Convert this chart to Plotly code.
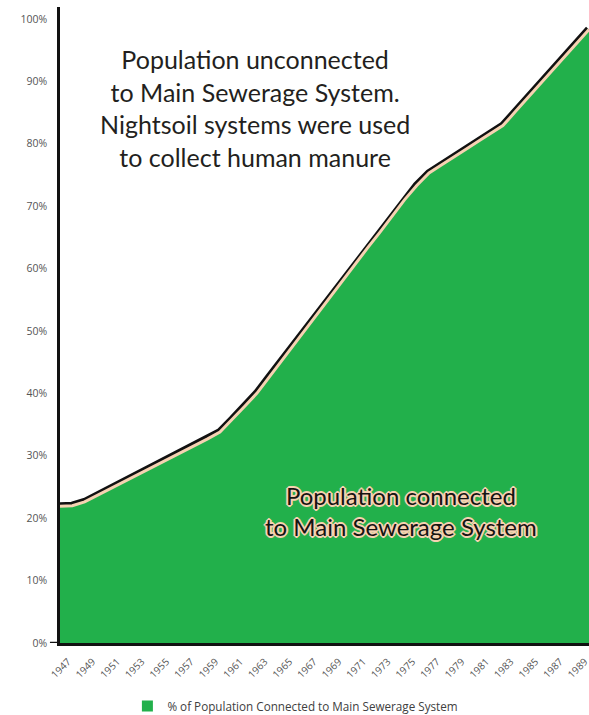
import plotly.graph_objects as go

# Share of the population connected to the main sewerage system, by year
years = list(range(1947, 1991))
connected_pct = [
    21.9, 22.0, 22.6, 23.6, 24.6, 25.6, 26.6, 27.6, 28.6, 29.6,
    30.6, 31.7, 32.7, 33.8, 35.8, 37.9, 40.0, 42.6, 45.2, 47.8,
    50.4, 53.0, 55.6, 58.2, 60.8, 63.3, 65.8, 68.4, 71.0, 73.3,
    75.3, 76.6, 77.8, 79.1, 80.4, 81.6, 82.9, 85.1, 87.3, 89.5,
    91.7, 93.9, 96.1, 98.3,
]

tick_years = list(range(1947, 1990, 2))
y_ticks = list(range(0, 101, 10))
y_tick_labels = [f"{v}%" for v in y_ticks]

series_name = "% of Population Connected to Main Sewerage System"
unconnected_note = ("Population unconnected<br>to Main Sewerage System.<br>"
                    "Nightsoil systems were used<br>to collect human manure")
connected_note = "Population connected<br>to Main Sewerage System"

GREEN = "#22b04b"
BEIGE = "#f6d2b2"

fig = go.Figure()

# dark outline running along the top of the connected area
fig.add_trace(go.Scatter(
    x=years, y=connected_pct, mode="lines",
    line=dict(color="#111111", width=8),
    showlegend=False, hoverinfo="skip",
))
# the connected share as a filled area
fig.add_trace(go.Scatter(
    x=years, y=connected_pct, mode="lines",
    fill="tozeroy", fillcolor=GREEN,
    line=dict(color=GREEN, width=0),
    name=series_name, showlegend=False,
))
# light edge between the fill and the outline
fig.add_trace(go.Scatter(
    x=years, y=connected_pct, mode="lines",
    line=dict(color=BEIGE, width=3),
    showlegend=False, hoverinfo="skip",
))
# legend key for the area: a plain green square
fig.add_trace(go.Scatter(
    x=[None], y=[None], mode="markers",
    marker=dict(symbol="square", size=11, color=GREEN),
    name=series_name, showlegend=True,
))

halo = ", ".join([
    f"1px 1px 0 {BEIGE}", f"-1px -1px 0 {BEIGE}",
    f"1px -1px 0 {BEIGE}", f"-1px 1px 0 {BEIGE}",
    f"2px 0 0 {BEIGE}", f"-2px 0 0 {BEIGE}",
    f"0 2px 0 {BEIGE}", f"0 -2px 0 {BEIGE}",
    f"0 0 3px {BEIGE}",
])

fig.add_annotation(
    x=0.369, y=0.841, xref="paper", yref="paper",
    xanchor="center", yanchor="middle",
    text=unconnected_note, showarrow=False, align="center",
    font=dict(family="Lato", size=25, color="#231f20"),
)
fig.add_annotation(
    x=0.645, y=0.2075, xref="paper", yref="paper",
    xanchor="center", yanchor="middle",
    text=connected_note, showarrow=False, align="center",
    font=dict(family="Lato", size=24, color="#161412", shadow=halo),
)

# short stub of the baseline to the left of the value axis
fig.add_shape(type="line", xref="paper", yref="y",
              x0=-0.019, x1=0, y0=0, y1=0,
              line=dict(color="#111111", width=2.5))

fig.update_xaxes(
    range=[1947, 1990],
    tickmode="array", tickvals=tick_years,
    ticktext=[str(y) for y in tick_years],
    tickangle=-45, ticklabelshift=8, ticklabelstandoff=6,
    ticklabeloverflow="allow",
    tickfont=dict(family="Open Sans", size=10, color="#555555"),
    showgrid=False, zeroline=False,
    showline=True, linecolor="#111111", linewidth=3,
    ticks="", automargin=False,
)
fig.update_yaxes(
    range=[0, 101.9],
    tickmode="array", tickvals=y_ticks, ticktext=y_tick_labels,
    tickfont=dict(family="Open Sans", size=10.5, color="#555555"),
    ticklabelstandoff=8,
    showgrid=False, zeroline=False,
    showline=True, linecolor="#111111", linewidth=2.5,
    ticks="", automargin=False,
)

fig.update_layout(
    width=589, height=715,
    margin=dict(l=60, r=0, t=7, b=72, autoexpand=False),
    paper_bgcolor="white", plot_bgcolor="white",
    showlegend=True,
    legend=dict(
        orientation="h", x=0.445, y=-0.099,
        xanchor="center", yanchor="middle",
        font=dict(family="Open Sans", size=11.7, color="#404040"),
        itemwidth=30,
    ),
)

fig.write_html("out.html")
